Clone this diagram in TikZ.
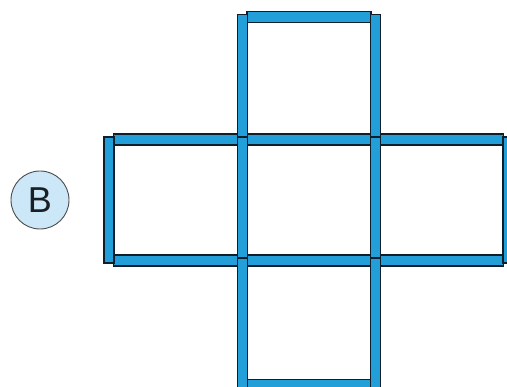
\documentclass[tikz,border=0pt]{standalone}
\usepackage{fontspec}
\setmainfont{Liberation Sans}
\usepackage{tikz}
\usetikzlibrary{positioning, calc}
\definecolor{stickblue}{RGB}{34,158,216}
\definecolor{stickline}{RGB}{14,30,42}
\definecolor{circblue}{RGB}{204,232,248}
\definecolor{labeltext}{RGB}{24,32,38}
\tikzset{
  stickbox/.style={draw=stickline,fill=stickblue,line width=1.6pt},
  labelcirc/.style={circle,draw=black!70,fill=circblue,line width=0.9pt,minimum size=58pt,
                    inner sep=0pt,text=labeltext,font=\fontsize{36}{36}\selectfont}
}

\begin{document}
\begin{tikzpicture}[x=1pt,y=-1pt]
  \useasboundingbox (0,0) rectangle (507,387);

  %% Label
  \node[labelcirc] (lblB) at (40,200) {B};

  %% Horizontal sticks (left x / right x / y)
  \foreach \xa/\xb/\y in {242.5/375.5/17,
                          109/242.5/139.5, 242.5/375.5/139.5, 375.5/508/139.5,
                          109/242.5/260.5, 242.5/375.5/260.5, 375.5/508/260.5,
                          242.5/375.5/385}
    \draw[stickbox] (\xa+4.5,\y-5.5) rectangle (\xb-4.5,\y+5.5);

  %% Vertical sticks (x / top y / bottom y)
  \foreach \x/\ya/\yb in {242.5/17/139.5, 375.5/17/139.5,
                          109/139.5/260.5, 242.5/139.5/260.5, 375.5/139.5/260.5, 508/139.5/260.5,
                          242.5/260.5/385, 375.5/260.5/385}
    \draw[stickbox] (\x-5,\ya-2.5) rectangle (\x+5,\yb+2.5);
\end{tikzpicture}
\end{document}
